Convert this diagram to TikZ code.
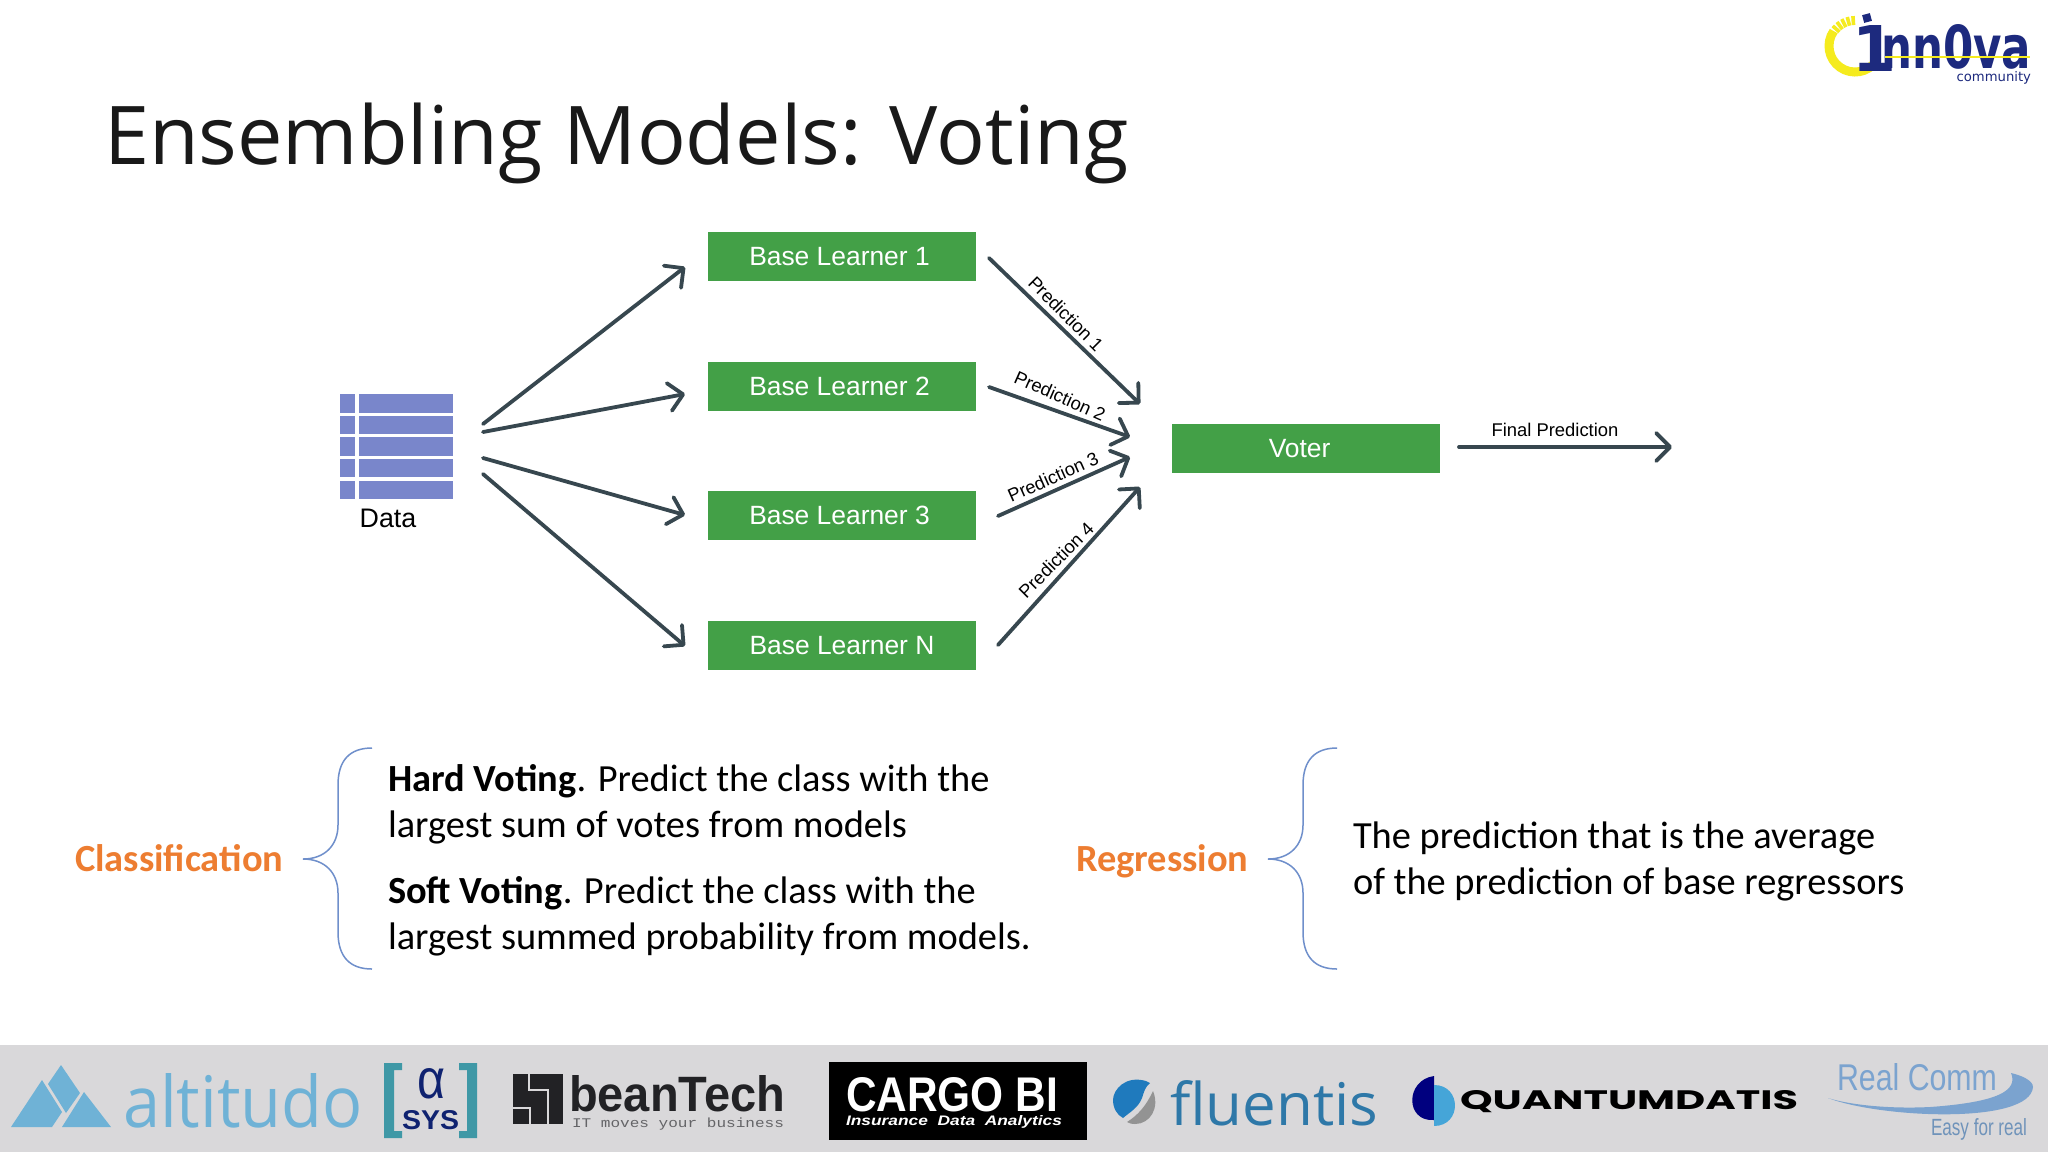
\documentclass[tikz,border=0pt]{standalone}
\usepackage{fontspec}
\usepackage{graphicx}
\usetikzlibrary{arrows.meta}
\setmainfont{Carlito}
\newfontfamily\titlef{Open Sans}
\newfontfamily\labf{Liberation Sans}
\newfontfamily\logof{Open Sans}
\newfontfamily\heavyf{DejaVu Sans}
\newfontfamily\popf{Poppins}
\newfontfamily\monof{Liberation Mono}
\definecolor{green1}{HTML}{43A047}
\definecolor{slate}{HTML}{37474F}
\definecolor{tbl}{HTML}{7986CB}
\definecolor{orange1}{HTML}{ED7D31}
\definecolor{brace}{HTML}{6F8FCB}
\definecolor{foot}{HTML}{D9D8DA}
\definecolor{navy1}{HTML}{1D2A7E}
\definecolor{yell}{HTML}{F5EB1E}
\definecolor{altcol}{HTML}{6FB2D6}
\definecolor{teal1}{HTML}{3F98A6}
\definecolor{navy2}{HTML}{0F2270}
\definecolor{dark1}{HTML}{222225}
\definecolor{flu}{HTML}{2E78A8}
\definecolor{flub}{HTML}{1F7ABD}
\definecolor{qnavy}{HTML}{00007F}
\definecolor{qblue}{HTML}{45A5D8}
\definecolor{rc}{HTML}{7BA3CF}
\newcommand{\fsz}[1]{\fontsize{#1}{#1}\selectfont}
\tikzset{
  x=0.5pt,y=-0.5pt,
  every node/.style={inner sep=0pt,outer sep=0pt},
  learner/.style={fill=green1,text=white,minimum width=134pt,minimum height=24.5pt,font=\labf\fsz{13.2}},
  arrowline/.style={draw=slate,line width=1.9pt,line cap=round,-{Straight Barb[length=7pt,width=14pt,line width=1.9pt,round]}},
  plabel/.style={font=\labf\fsz{9.2},text=black},
  bodytext/.style={anchor=base west,font=\fsz{19.2},text=black},
  headtext/.style={anchor=base west,font=\bfseries\fsz{19.2},text=orange1},
  bracecurve/.style={draw=brace,line width=0.75pt},
  tblcell/.style={fill=tbl},
  logotext/.style={anchor=base west}
}
\begin{document}
\begin{tikzpicture}
\useasboundingbox (0,0) rectangle (2048,1152);
\fill[white] (0,0) rectangle (2048,1152);

% title
\node[anchor=base west,font=\titlef\fsz{40.5},text=black!90] (title) at (104,164) {Ensembling Models: Voting};

% innova logo
\draw[yell,line width=4.5pt] (1855,46) ++(35:26) arc[start angle=35,end angle=215,radius=26];
\foreach \a in {222,233,244,255,266}{\draw[yell,line width=1.8pt] (1855,46) ++(\a:21) -- ++(\a:9);}
\fill[navy1,rotate around={15:(1867,18)}] (1863,14) rectangle (1871,22);
\node[logotext,text=navy1] (lg1) at (1852,71) {\resizebox{22pt}{23pt}{\heavyf\bfseries 1}};
\node[logotext,text=navy1] (lg2) at (1881,68) {\resizebox{75pt}{22pt}{\heavyf\bfseries nn0va}};
\draw[yell,line width=0.8pt] (1885,57) -- (2030,57);
\node[anchor=base east,text=navy1,font=\heavyf\fsz{6.6}] (lg3) at (2031,81) {community};

% data table
\foreach \ya/\yb in {394/413,416/434,437/456,459/477,481/499}{
  \fill[tblcell] (340,\ya) rectangle (355,\yb);
  \fill[tblcell] (359,\ya) rectangle (453,\yb);
}
\node[font=\labf\fsz{13.4},anchor=base] (datal) at (388,527) {Data};

% learners
\node[learner] (b1) at (842,256.5) {\hspace*{-2.5pt}Base Learner 1};
\node[learner] (b2) at (842,386.5) {\hspace*{-2.5pt}Base Learner 2};
\node[learner] (b3) at (842,515.5) {\hspace*{-2.5pt}Base Learner 3};
\node[learner] (b4) at (842,645.5) {Base Learner N};
\node[learner] (voter) at (1306,448.5) {\hspace*{-6.4pt}Voter};

% connector end points
\coordinate (s1) at (483,424); \coordinate (e1) at (685,267);
\coordinate (s2) at (483,432); \coordinate (e2) at (685,394);
\coordinate (s3) at (483,458); \coordinate (e3) at (685,515);
\coordinate (s4) at (483,474); \coordinate (e4) at (685,646);
\coordinate (p1s) at (989,258); \coordinate (p1e) at (1140,404);
\coordinate (p2s) at (989,387); \coordinate (p2e) at (1130,437);
\coordinate (p3s) at (998,516); \coordinate (p3e) at (1130,457);
\coordinate (p4s) at (998,645); \coordinate (p4e) at (1140,487);
\coordinate (fs) at (1459,447); \coordinate (fe) at (1672,447);
\draw[arrowline] (s1) -- (e1);
\draw[arrowline] (s2) -- (e2);
\draw[arrowline] (s3) -- (e3);
\draw[arrowline] (s4) -- (e4);
\draw[arrowline] (p1s) -- (p1e);
\draw[arrowline] (p2s) -- (p2e);
\draw[arrowline] (p3s) -- (p3e);
\draw[arrowline] (p4s) -- (p4e);
\draw[arrowline] (fs) -- (fe);

\node[plabel,rotate=-45] (l1) at (1066,314) {Prediction 1};
\node[plabel,rotate=-24] (l2) at (1060,396) {Prediction 2};
\node[plabel,rotate=24] (l3) at (1053,477) {Prediction 3};
\node[plabel,rotate=45] (l4) at (1056,560) {Prediction 4};
\node[plabel] (l5) at (1555,430) {Final Prediction};

% braces
\draw[bracecurve] (372,748) .. controls (350,748) and (338,760) .. (338,785) -- (338,825) .. controls (338,845) and (325,859) .. (303,859) .. controls (325,859) and (338,873) .. (338,893) -- (338,932) .. controls (338,957) and (350,969) .. (372,969);
\draw[bracecurve] (1337,748) .. controls (1315,748) and (1303,760) .. (1303,785) -- (1303,825) .. controls (1303,845) and (1290,859) .. (1268,859) .. controls (1290,859) and (1303,873) .. (1303,893) -- (1303,932) .. controls (1303,957) and (1315,969) .. (1337,969);

% text
\node[headtext] (clf) at (75,871) {Classification};
\node[headtext] (reg) at (1076,871) {Regression};
\node[bodytext] (t1) at (388,791) {\textbf{Hard Voting}. Predict the class with the};
\node[bodytext] (t2) at (388,837) {largest sum of votes from models};
\node[bodytext] (t3) at (388,903) {\textbf{Soft Voting}. Predict the class with the};
\node[bodytext] (t4) at (388,949) {largest summed probability from models.};
\node[bodytext] (t5) at (1353,848) {The prediction that is the average};
\node[bodytext] (t6) at (1353,894) {of the prediction of base regressors};

% footer band
\fill[foot] (0,1045) rectangle (2048,1152);

% altitudo
\fill[altcol] (11,1127) -- (42,1080) -- (62,1112) -- (52,1127) -- cycle;
\fill[altcol] (61,1065) -- (80,1093) -- (66,1113) -- (48,1084) -- cycle;
\fill[altcol] (84,1092) -- (111,1127) -- (62,1127) -- cycle;
\node[logotext,text=altcol] (alt) at (123,1127) {\resizebox{120pt}{27pt}{\logof altitudo}};

% alpha sys
\fill[teal1] (384,1063) -- (402,1063) -- (402,1070) -- (394,1070) -- (394,1131) -- (402,1131) -- (402,1138) -- (384,1138) -- cycle;
\fill[teal1] (477,1063) -- (459,1063) -- (459,1070) -- (467,1070) -- (467,1131) -- (459,1131) -- (459,1138) -- (477,1138) -- cycle;
\node[logotext,text=navy2] (alpha) at (417,1098) {\resizebox{14pt}{15pt}{\labf α}};
\node[logotext,text=navy2] (sys) at (402,1129) {\resizebox{28.5pt}{9.5pt}{\labf\bfseries SYS}};

% beantech
\fill[dark1] (513,1074) rectangle (563,1124);
\draw[foot,line width=1pt] (529,1074) -- (529,1090) -- (548,1090) -- (548,1124);
\draw[foot,line width=1pt] (513,1108) -- (530,1108) -- (530,1124);
\node[logotext,text=dark1] (bt) at (569,1111) {\resizebox{108pt}{18pt}{\labf\bfseries beanTech}};
\node[logotext,text=dark1!70] (bts) at (572,1127) {\resizebox{106pt}{4.8pt}{\monof IT moves your business}};

% cargo
\fill[black] (829,1062) rectangle (1087,1140);
\node[logotext,text=white] (cg) at (846,1111) {\resizebox{106pt}{17pt}{\labf\bfseries CARGO BI}};
\node[logotext,text=white] (cgs) at (846,1125) {\resizebox{108pt}{5pt}{\labf\bfseries\itshape Insurance~~Data~~Analytics}};

% fluentis
\fill[flub] (1146,1081) .. controls (1125,1075) and (1113,1090) .. (1113,1100) .. controls (1113,1108) and (1117,1115) .. (1123,1118) .. controls (1130,1112) and (1138,1108) .. (1142,1098) .. controls (1144,1092) and (1145,1087) .. (1150,1083) -- cycle;
\fill[gray!85] (1153,1091) .. controls (1160,1108) and (1150,1124) .. (1135,1124) .. controls (1131,1124) and (1129,1123) .. (1127,1122) .. controls (1138,1115) and (1146,1106) .. (1153,1091) -- cycle;
\node[logotext,text=flu] (fl) at (1170,1125) {\resizebox{104pt}{22.5pt}{\logof fluentis}};

% quantumdatis
\fill[qnavy] (1434,1076) .. controls (1405,1080) and (1405,1122) .. (1434,1120) -- cycle;
\fill[qblue] (1434,1085) .. controls (1462,1085) and (1462,1126) .. (1434,1126) -- cycle;
\node[logotext,text=black] (qd) at (1460,1109) {\resizebox{169pt}{9.5pt}{\popf\bfseries QUANTUMDATIS}};

% real comm
\node[logotext,text=rc] (rc1) at (1837,1090) {\resizebox{80pt}{13.5pt}{\labf Real Comm}};
\fill[rc] (1828,1098) .. controls (1880,1118) and (2030,1125) .. (2033,1087) .. controls (2033,1080) and (2020,1075) .. (2011,1073) .. controls (2018,1090) and (2000,1102) .. (1930,1107) .. controls (1890,1109) and (1850,1105) .. (1828,1098) -- cycle;
\node[logotext,text=rc!90!black] (rc2) at (1931,1135) {\resizebox{48pt}{8.5pt}{\labf Easy for real}};
\end{tikzpicture}
\end{document}
